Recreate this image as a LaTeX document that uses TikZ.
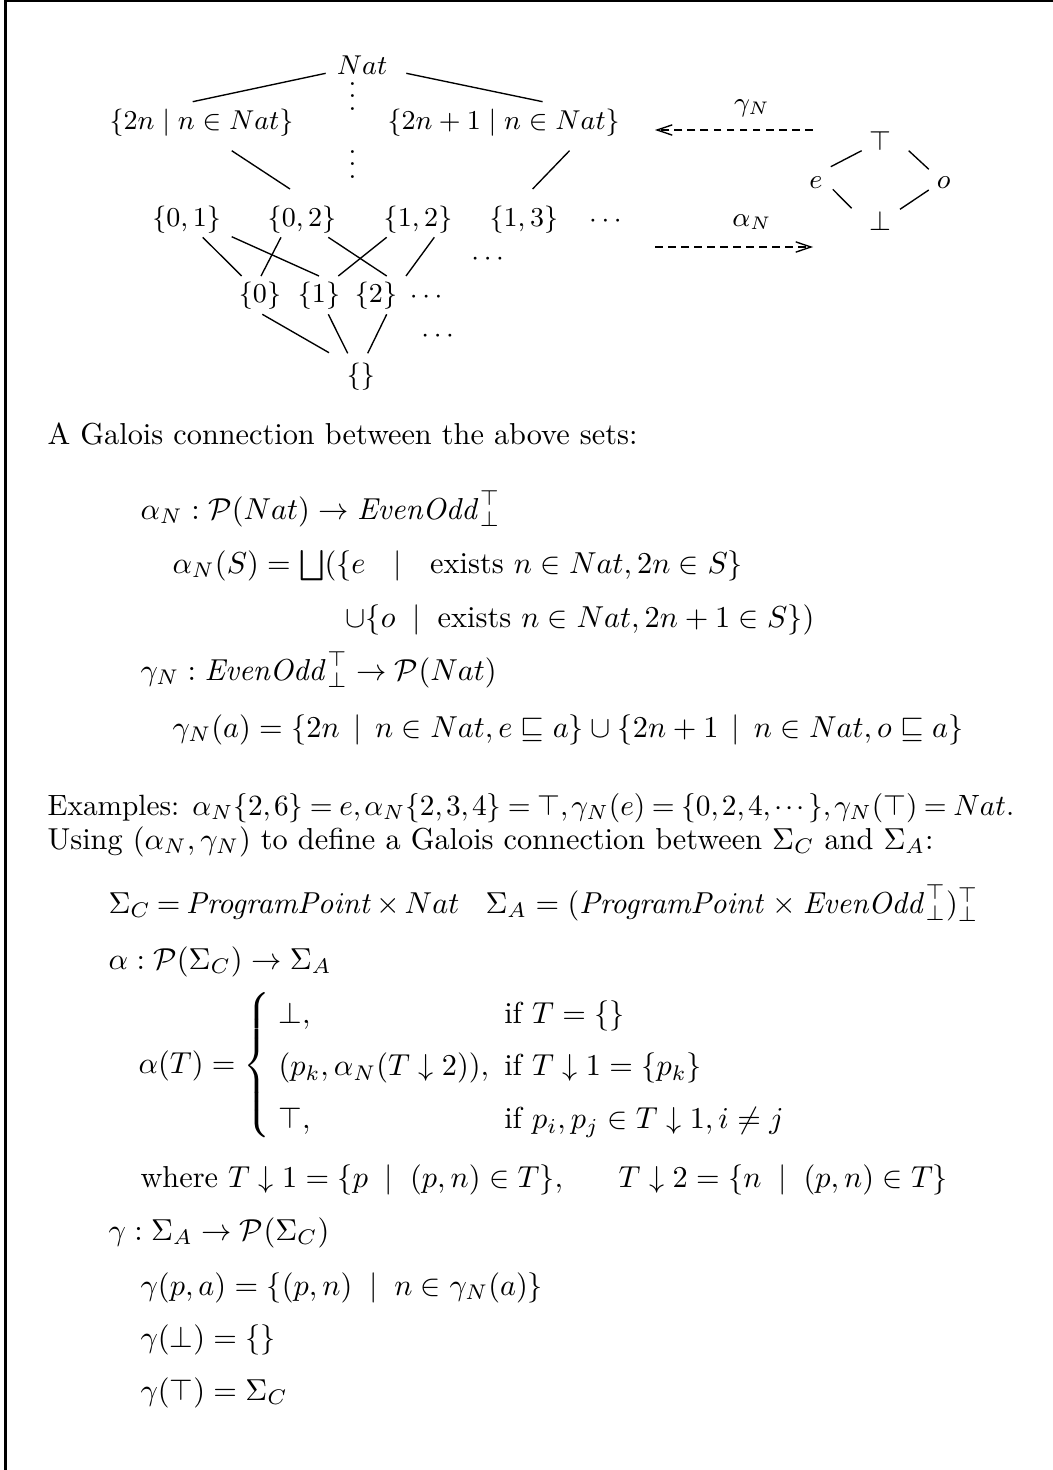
\documentclass[tikz,border=0pt]{standalone}
\usepackage{amsmath,amssymb}
\usetikzlibrary{arrows.meta,calc}
\begin{document}
\begin{tikzpicture}[x=0.33pt,y=-0.33pt,
  lat/.style={inner sep=0pt,anchor=center,font=\small},
  latdots/.style={inner sep=0pt,anchor=base,font=\small},
  edge/.style={line width=0.45pt},
  txt/.style={inner sep=0pt,anchor=base west},
  dsh/.style={line width=0.45pt,dash pattern=on 2.6pt off 1.7pt},
  tip/.style={-{Straight Barb[length=5pt,width=3.4pt]}}]
\useasboundingbox (0,0) rectangle (1053,1470);
\draw[line width=0.8pt] (5.5,1470) -- (5.5,1) -- (1053,1);
% ---------- lattice of subsets of Nat ----------
\node[lat] (nat) at (362,65) {$Nat$};
\node[latdots] (vd1) at (352.6,110) {$\vdots$};
\node[latdots] (vd2) at (352.6,178) {$\vdots$};
\node[lat] (ev) at (201.5,123) {$\{2n \mid n \in Nat\}$};
\node[lat] (od) at (503.7,123) {$\{2n+1 \mid n \in Nat\}$};
\node[lat] (n01) at (186.7,220) {$\{0,1\}$};
\node[lat] (n02) at (302,220) {$\{0,2\}$};
\node[lat] (n12) at (418,220) {$\{1,2\}$};
\node[lat] (n13) at (523.8,220) {$\{1,3\}$};
\node[latdots] (dA) at (607.8,227) {$\cdots$};
\node[latdots] (dC) at (490,265) {$\cdots$};
\node[lat] (s0) at (260,296) {$\{0\}$};
\node[lat] (s1) at (319,296) {$\{1\}$};
\node[lat] (s2) at (376,296) {$\{2\}$};
\node[latdots] (dB) at (428.5,303) {$\cdots$};
\node[latdots] (dD) at (440,342) {$\cdots$};
\node[lat] (emp) at (361,377) {$\{\}$};
\draw[edge] ($(nat)+(-36.3,8.3)$) -- ($(ev)+(-8.8,-21.3)$);
\draw[edge] ($(nat)+(44.3,8.3)$) -- ($(od)+(38.9,-21.3)$);
\draw[edge] ($(ev)+(30.2,27.7)$) -- ($(n02)+(-12,-31)$);
\draw[edge] ($(od)+(65.8,27.7)$) -- ($(n13)+(8.8,-31)$);
\draw[edge] ($(n01)+(16,17.3)$) -- ($(s0)+(-18.3,-20)$);
\draw[edge] ($(n01)+(45,16.7)$) -- ($(s1)+(0,-20)$);
\draw[edge] ($(n02)+(-21,17.3)$) -- ($(s0)+(1,-20)$);
\draw[edge] ($(n02)+(26.3,17.3)$) -- ($(s2)+(10.7,-20)$);
\draw[edge] ($(n12)+(-31.3,17.3)$) -- ($(s1)+(19.3,-20)$);
\draw[edge] ($(n12)+(16.3,17.3)$) -- ($(s2)+(30,-20)$);
\draw[edge] ($(s0)+(2.3,18.3)$) -- ($(emp)+(-32,-24.3)$);
\draw[edge] ($(s1)+(9.3,18.3)$) -- ($(emp)+(-13.3,-23.7)$);
\draw[edge] ($(s2)+(10.7,18.3)$) -- ($(emp)+(6.7,-23.7)$);
% ---------- EvenOdd lattice ----------
\node[lat] (top) at (880,141) {$\top$};
\node[lat] (e) at (816,183) {$e$};
\node[lat] (o) at (943.6,183) {$o$};
\node[lat] (bot) at (880,221) {$\bot$};
\draw[edge] ($(e)+(14.8,-16.3)$) -- ($(top)+(-18.4,9.7)$);
\draw[edge] ($(top)+(28.7,9.7)$) -- ($(o)+(-14.8,-13.7)$);
\draw[edge] ($(e)+(16.8,6.3)$) -- ($(bot)+(-28.4,-12.7)$);
\draw[edge] ($(bot)+(20,-11.7)$) -- ($(o)+(-14.8,7)$);
% ---------- Galois arrows ----------
\node[lat] (gam) at (752,108) {$\gamma_N$};
\node[lat] (alp) at (752,222) {$\alpha_N$};
\coordinate (g1) at (812.6,130);
\coordinate (g2) at (655,130);
\coordinate (a1) at (655,247);
\coordinate (a2) at (813,247);
\draw[dsh,tip] (g1) -- (g2);
\draw[dsh,tip] (a1) -- (a2);
% ---------- text ----------
\node[txt] (t1) at (47,444) {A Galois connection between the above sets:};
\node[txt] (t2) at (140,519) {$\alpha_N : \mathcal{P}(Nat) \rightarrow \mathit{EvenOdd}^{\top}_{\bot}$};
\node[txt] (t3) at (172,573) {$\alpha_N(S) = \bigsqcup(\{e \hspace{6.5pt}\mid\hspace{6.5pt} \mbox{exists } n \in Nat, 2n \in S\}$};
\node[txt] (t4) at (345,627) {$\cup\{o \;\mid\; \mbox{exists } n \in Nat, 2n+1 \in S\})$};
\node[txt] (t5) at (140,680) {$\gamma_N : \mathit{EvenOdd}^{\top}_{\bot} \rightarrow \mathcal{P}(Nat)$};
\node[txt] (t6) at (172,737) {$\gamma_N(a) = \{2n \,\mid\, n \in Nat, e \sqsubseteq a\} \cup \{2n+1 \,\mid\, n \in Nat, o \sqsubseteq a\}$};
\node[txt] (t7) at (47,815) {\resizebox{319pt}{!}{\thickmuskip=4mu\thinmuskip=2mu Examples: $\alpha_N\{2,6\} = e, \alpha_N\{2,3,4\} = \top, \gamma_N(e) = \{0,2,4,\cdots\}, \gamma_N(\top) = Nat$.}};
\node[txt] (t8) at (47,849) {Using $(\alpha_N, \gamma_N)$ to define a Galois connection between $\Sigma_C$ and $\Sigma_A$:};
\node[txt] (t9) at (108,913) {\thickmuskip=3.5mu\medmuskip=2.5mu $\Sigma_C = \mathit{ProgramPoint} \times Nat$};
\node[txt] (t10) at (485,913) {$\Sigma_A = (\mathit{ProgramPoint} \times \mathit{EvenOdd}^{\top}_{\bot})^{\top}_{\bot}$};
\node[txt] (t11) at (108,969) {$\alpha : \mathcal{P}(\Sigma_C) \rightarrow \Sigma_A$};
\node[txt] (t12) at (138,1073) {$\renewcommand{\arraystretch}{1.45}\setlength{\arraycolsep}{2.5pt}
  \alpha(T) = \left\{\begin{array}{ll}
  \bot, & \mbox{if } T = \{\} \\
  (p_k, \alpha_N(T \downarrow 2)), & \mbox{if } T \downarrow 1 = \{p_k\} \\
  \top, & \mbox{if } p_i, p_j \in T \downarrow 1, i \not= j
  \end{array}\right.$};
\node[txt] (t13) at (140,1187) {where $T \downarrow 1 = \{p \;\mid\; (p,n) \in T\}, \quad\ \ T \downarrow 2 = \{n \;\mid\; (p,n) \in T\}$};
\node[txt] (t14) at (108,1240) {$\gamma : \Sigma_A \rightarrow \mathcal{P}(\Sigma_C)$};
\node[txt] (t15) at (140,1295) {$\gamma(p,a) = \{(p,n) \;\mid\; n \in \gamma_N(a)\}$};
\node[txt] (t16) at (140,1347) {$\gamma(\bot) = \{\}$};
\node[txt] (t17) at (140,1400) {$\gamma(\top) = \Sigma_C$};
\end{tikzpicture}
\end{document}
